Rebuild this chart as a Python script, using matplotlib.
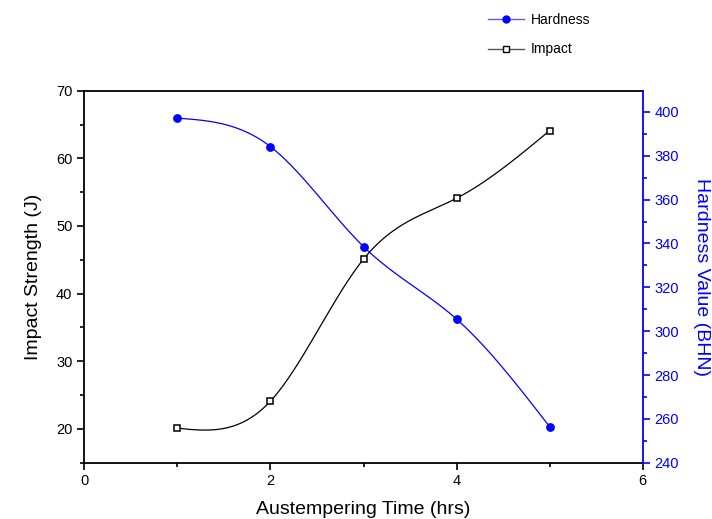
import numpy as np
import matplotlib
matplotlib.use("Agg")
import matplotlib.pyplot as plt
from matplotlib.ticker import MultipleLocator
from matplotlib.lines import Line2D

plt.rcParams['font.family'] = ['Liberation Sans', 'DejaVu Sans']

# data
time_hrs = [1, 2, 3, 4, 5]
impact = [20.1, 24.1, 45.1, 54.1, 64.1]
hardness = [397.2, 384.2, 338.6, 305.5, 256.4]


def natural_spline(x, y, n=200):
    # plain natural cubic spline, only used for the smooth connecting line
    x = np.asarray(x, float)
    y = np.asarray(y, float)
    k = len(x)
    h = np.diff(x)
    A = np.zeros((k, k))
    r = np.zeros(k)
    A[0, 0] = A[-1, -1] = 1
    for i in range(1, k - 1):
        A[i, i - 1] = h[i - 1]
        A[i, i] = 2 * (h[i - 1] + h[i])
        A[i, i + 1] = h[i]
        r[i] = 6 * ((y[i + 1] - y[i]) / h[i] - (y[i] - y[i - 1]) / h[i - 1])
    m = np.linalg.solve(A, r)
    xs = np.linspace(x[0], x[-1], n)
    ys = np.empty_like(xs)
    for j, xv in enumerate(xs):
        i = min(np.searchsorted(x, xv, side='right') - 1, k - 2)
        t0 = x[i + 1] - xv
        t1 = xv - x[i]
        ys[j] = (m[i] * t0 ** 3 + m[i + 1] * t1 ** 3) / (6 * h[i]) \
            + (y[i] / h[i] - m[i] * h[i] / 6) * t0 \
            + (y[i + 1] / h[i] - m[i + 1] * h[i] / 6) * t1
    return xs, ys


fig = plt.figure(figsize=(7.12, 5.19), dpi=100)
ax = fig.add_axes([0.1184, 0.1085, 0.7843, 0.7167])
ax2 = ax.twinx()

xs, ys = natural_spline(time_hrs, impact)
ax.plot(xs, ys, color='black', lw=0.9)
ax.plot(time_hrs, impact, ls='none', marker='s', ms=4.6, mfc='white',
        mec='black', mew=1.1, zorder=5)

xs, ys = natural_spline(time_hrs, hardness)
ax2.plot(xs, ys, color='blue', lw=0.9)
ax2.plot(time_hrs, hardness, ls='none', marker='o', ms=5.3, color='blue', zorder=5)

ax.set_xlim(0, 6)
ax.set_ylim(15, 70)
ax2.set_ylim(240, 409.7)

ax.xaxis.set_major_locator(MultipleLocator(2))
ax.xaxis.set_minor_locator(MultipleLocator(1))
ax.yaxis.set_major_locator(MultipleLocator(10))
ax.yaxis.set_minor_locator(MultipleLocator(5))
ax2.yaxis.set_major_locator(MultipleLocator(20))
ax2.yaxis.set_minor_locator(MultipleLocator(10))

ax.tick_params(which='both', direction='out', labelsize=10.5, width=1.2, colors='black')
ax.tick_params(which='major', length=5)
ax.tick_params(which='minor', length=3)
ax2.tick_params(which='both', direction='out', labelsize=10.5, width=1.2,
                colors='blue')
ax2.tick_params(which='major', length=5)
ax2.tick_params(which='minor', length=3)

for s in ['left', 'bottom', 'top']:
    ax.spines[s].set_linewidth(1.3)
ax2.spines['right'].set_color('blue')
ax2.spines['right'].set_linewidth(1.3)
ax2.spines['left'].set_visible(False)
ax2.spines['top'].set_visible(False)
ax2.spines['bottom'].set_visible(False)
ax.spines['right'].set_visible(False)

ax.set_xlabel('Austempering Time (hrs)', fontsize=14, labelpad=9)
ax.set_ylabel('Impact Strength (J)', fontsize=14, labelpad=10)
ax2.set_ylabel('Hardness Value (BHN)', fontsize=14, color='blue',
               rotation=270, labelpad=22)

handles = [
    Line2D([], [], color='#5a5aff', lw=1, marker='o', ms=5, mfc='blue', mec='blue'),
    Line2D([], [], color='#555555', lw=1, marker='s', ms=4.5, mfc='white', mec='black'),
]
fig.legend(handles, ['Hardness', 'Impact'], loc='upper left',
           bbox_to_anchor=(0.668, 1.0), frameon=False, fontsize=10,
           handlelength=2.6, handletextpad=0.45, labelspacing=1.15)

fig.savefig('out.png', dpi=100)
